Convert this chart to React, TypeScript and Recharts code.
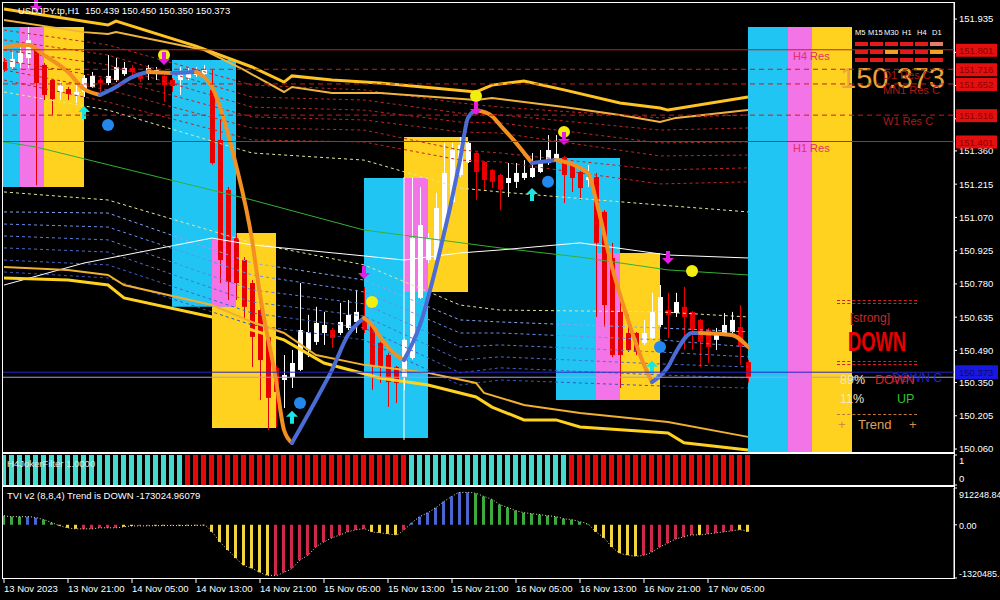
import React from 'react';
import {
  ComposedChart,
  Bar,
  Line,
  XAxis,
  YAxis,
  Cell,
  ReferenceArea,
  ReferenceLine,
  ReferenceDot,
} from 'recharts';

const FONT = '"Liberation Sans", Arial, sans-serif';

// H1 bars, index 0 = 13 Nov 13:00
const opens = [
  151.748, 151.726, 151.743, 151.765, 151.8, 151.735, 151.669, 151.617, 151.63, 151.604,
  151.617, 151.639, 151.669, 151.656, 151.669, 151.695, 151.722, 151.687, 151.704, 151.7,
  151.687, 151.669, 151.669, 151.678, 151.691, 151.695, 151.626, 151.408, 151.19, 150.98,
  150.884, 150.784, 150.666, 150.549, 150.414, 150.361, 150.374, 150.405, 150.492, 150.527,
  150.566, 150.579, 150.566, 150.588, 150.614, 150.632, 150.601, 150.523, 150.47, 150.418,
  150.374, 150.457, 150.719, 150.884, 150.884, 151.015, 151.137, 151.255, 151.312, 151.351,
  151.312, 151.277, 151.255, 151.22, 151.225, 151.242, 151.246, 151.268, 151.307, 151.325,
  151.333, 151.299, 151.268, 151.233, 151.246, 151.094, 150.893, 150.658, 150.566, 150.566,
  150.523, 150.544, 150.601, 150.666, 150.653, 150.68, 150.658, 150.623, 150.579, 150.536,
  150.566, 150.57, 150.592, 150.439,
];
const highs = [
  151.765, 151.8, 151.822, 151.9, 151.813, 151.743, 151.672, 151.66, 151.639, 151.647,
  151.691, 151.704, 151.678, 151.778, 151.765, 151.748, 151.735, 151.704, 151.735, 151.726,
  151.691, 151.678, 151.726, 151.722, 151.726, 151.735, 151.713, 151.495, 151.203, 151.002,
  150.897, 150.797, 150.688, 150.566, 150.422, 150.47, 150.492, 150.784, 150.645, 150.68,
  150.658, 150.588, 150.697, 150.71, 150.754, 150.767, 150.605, 150.527, 150.479, 150.422,
  150.54, 151.242, 151.203, 151.002, 151.177, 151.395, 151.395, 151.421, 151.4, 151.356,
  151.316, 151.281, 151.26, 151.307, 151.307, 151.32, 151.351, 151.364, 151.429, 151.429,
  151.338, 151.303, 151.272, 151.299, 151.264, 151.102, 150.959, 150.741, 150.645, 150.57,
  150.623, 150.741, 150.775, 150.741, 150.741, 150.767, 150.662, 150.627, 150.588, 150.588,
  150.653, 150.658, 150.688, 150.45,
];
const lows = [
  151.704, 151.713, 151.722, 151.722, 151.21, 151.582, 151.517, 151.582, 151.582, 151.569,
  151.595, 151.634, 151.617, 151.647, 151.66, 151.687, 151.691, 151.66, 151.669, 151.669,
  151.573, 151.617, 151.604, 151.669, 151.682, 151.682, 151.3, 150.784, 150.71, 150.71,
  150.623, 150.418, 150.274, 150.143, 150.156, 150.239, 150.326, 150.4, 150.461, 150.514,
  150.514, 150.501, 150.557, 150.579, 150.566, 150.566, 150.318, 150.348, 150.244, 150.261,
  150.318, 150.45, 150.714, 150.871, 150.871, 151.002, 151.13, 151.246, 151.307, 151.146,
  151.19, 151.198, 151.102, 151.159, 151.198, 151.233, 151.242, 151.264, 151.299, 151.32,
  151.133, 151.181, 151.146, 151.203, 150.636, 150.592, 150.461, 150.326, 150.483, 150.47,
  150.514, 150.536, 150.592, 150.544, 150.636, 150.492, 150.492, 150.418, 150.435, 150.492,
  150.557, 150.566, 150.427, 150.35,
];
const closes = [
  151.713, 151.761, 151.787, 151.843, 151.656, 151.604, 151.586, 151.643, 151.608, 151.617,
  151.678, 151.687, 151.656, 151.687, 151.726, 151.722, 151.704, 151.674, 151.722, 151.713,
  151.647, 151.643, 151.691, 151.7, 151.708, 151.713, 151.307, 150.884, 150.788, 150.784,
  150.68, 150.549, 150.448, 150.283, 150.309, 150.383, 150.435, 150.579, 150.57, 150.61,
  150.601, 150.544, 150.614, 150.645, 150.658, 150.579, 150.427, 150.414, 150.352, 150.348,
  150.536, 150.98, 151.037, 150.98, 151.111, 151.264, 151.364, 151.386, 151.395, 151.268,
  151.233, 151.225, 151.19, 151.242, 151.264, 151.264, 151.286, 151.307, 151.364, 151.347,
  151.255, 151.242, 151.198, 151.246, 150.959, 150.688, 150.47, 150.47, 150.492, 150.483,
  150.566, 150.658, 150.723, 150.645, 150.701, 150.636, 150.579, 150.527, 150.505, 150.562,
  150.601, 150.623, 150.505, 150.373,
];

const priceTicks = [
  151.935, 151.79, 151.645, 151.5, 151.36, 151.215, 151.07, 150.925, 150.78, 150.635, 150.49,
  150.35, 150.205, 150.06,
];
const timeTickIdx = [0, 8, 16, 24, 32, 40, 48, 56, 64, 72, 80, 88];
const timeLabels = [
  '13 Nov 2023', '13 Nov 21:00', '14 Nov 05:00', '14 Nov 13:00', '14 Nov 21:00', '15 Nov 05:00',
  '15 Nov 13:00', '15 Nov 21:00', '16 Nov 05:00', '16 Nov 13:00', '16 Nov 21:00', '17 Nov 05:00',
];

// channel bands, [bar, price]
const bandTopOuter = [
  [0, 151.979], [13, 151.909], [14, 151.926], [24, 151.817], [31, 151.726], [35, 151.66],
  [36, 151.687], [41, 151.669], [47, 151.656], [59, 151.617], [61, 151.647], [65, 151.665],
  [70, 151.626], [77, 151.569], [82, 151.547], [83, 151.538], [93, 151.595],
];
const bandTopInner = [
  [0, 151.931], [10, 151.878], [13, 151.87], [14, 151.878], [25, 151.8], [30, 151.713],
  [35, 151.617], [36, 151.639], [41, 151.613], [47, 151.613], [59, 151.582], [61, 151.591],
  [70, 151.551], [77, 151.517], [82, 151.486], [84, 151.504], [93, 151.538],
];
const bandLowInner = [
  [0, 150.854], [8, 150.841], [13, 150.819], [15, 150.775], [26, 150.688], [31, 150.614],
  [35, 150.566], [39, 150.47], [45, 150.427], [53, 150.392], [59, 150.348], [60, 150.305],
  [65, 150.252], [72, 150.217], [83, 150.178], [93, 150.113],
];
const bandLowOuter = [
  [0, 150.806], [8, 150.797], [13, 150.775], [15, 150.719], [26, 150.636], [31, 150.579],
  [35, 150.536], [40, 150.435], [47, 150.37], [53, 150.339], [59, 150.287], [61, 150.243],
  [65, 150.187], [69, 150.187], [72, 150.156], [83, 150.13], [85, 150.087], [93, 150.056],
];
const greenMa = [
  [0, 151.399], [4, 151.377], [31, 151.146], [45, 151.015], [62, 150.937], [72, 150.897],
  [83, 150.841], [93, 150.819],
];
const whiteMa = [
  [0, 150.775], [10, 150.871], [26, 150.98], [31, 150.95], [45, 150.902], [50, 150.884],
  [57, 150.915], [62, 150.928], [72, 150.959], [83, 150.906], [93, 150.893],
];

// envelope levels sampled at these bars
const envIdx = [0, 13, 31, 45, 57, 62, 82, 93];
const envRed1 = [151.887, 151.822, 151.647, 151.626, 151.569, 151.551, 151.504, 151.517];
const envRed2 = [151.844, 151.778, 151.595, 151.582, 151.525, 151.517, 151.451, 151.46];
const envRed3 = [151.8, 151.735, 151.551, 151.538, 151.486, 151.482, 151.395, 151.399];
const envRed4 = [151.756, 151.678, 151.508, 151.495, 151.443, 151.438, 151.338, 151.342];
const envRed5 = [151.713, 151.626, 151.46, 151.451, 151.364, 151.351, 151.277, 151.286];
const envRed6 = [151.669, 151.573, 151.408, 151.399, 151.32, 151.312, 151.216, 151.225];
const envPaleHi = [151.617, 151.538, 151.351, 151.32, 151.198, 151.181, 151.124, 151.094];
const envPaleLo = [151.181, 151.146, 150.959, 150.863, 150.688, 150.666, 150.658, 150.636];
const envBlue1 = [151.094, 151.089, 150.871, 150.797, 150.623, 150.614, 150.588, 150.571];
const envBlue2 = [151.041, 151.028, 150.819, 150.745, 150.566, 150.566, 150.536, 150.505];
const envBlue3 = [150.989, 150.972, 150.754, 150.693, 150.505, 150.514, 150.483, 150.462];
const envBlue4 = [150.937, 150.919, 150.701, 150.64, 150.448, 150.462, 150.431, 150.418];
const envBlue5 = [150.884, 150.863, 150.653, 150.588, 150.392, 150.414, 150.383, 150.37];
const envBlue6 = [150.832, 150.806, 150.601, 150.536, 150.339, 150.361, 150.335, 150.326];

// smoothed trend line, split by slope
const trendSegments = [
  { dir: 'dn', pts: [[0, 151.813], [3, 151.822], [5, 151.778], [8, 151.704], [10, 151.63], [12, 151.604]] },
  { dir: 'up', pts: [[12, 151.604], [14, 151.639], [16, 151.682], [18, 151.704]] },
  { dir: 'dn', pts: [[18, 151.704], [21, 151.7]] },
  { dir: 'up', pts: [[21, 151.7], [24, 151.704]] },
  { dir: 'dn', pts: [[24, 151.704], [26, 151.639], [29, 151.299], [31, 150.972], [32, 150.732], [34, 150.361], [35, 150.143], [36, 150.087]] },
  { dir: 'up', pts: [[36, 150.087], [39, 150.274], [41, 150.405], [43, 150.557], [45, 150.632]] },
  { dir: 'dn', pts: [[45, 150.632], [46, 150.601], [47, 150.549], [49, 150.47], [50, 150.448]] },
  { dir: 'up', pts: [[50, 150.448], [52, 150.601], [54, 150.854], [57, 151.32], [58, 151.504], [59, 151.538]] },
  { dir: 'dn', pts: [[59, 151.538], [61, 151.512], [62, 151.473], [64, 151.395], [66, 151.307]] },
  { dir: 'up', pts: [[66, 151.307], [69, 151.32]] },
  { dir: 'dn', pts: [[69, 151.32], [73, 151.264], [74, 151.146], [76, 150.854], [78, 150.623], [80, 150.427], [81, 150.352]] },
  { dir: 'up', pts: [[81, 150.352], [83, 150.418], [84, 150.483], [86, 150.566], [87, 150.566]] },
  { dir: 'dn', pts: [[87, 150.566], [91, 150.557], [93, 150.505]] },
];

const zoneBoxes = [
  { kind: 'yellow', x1: 5, x2: 10, top: 151.9, bottom: 151.203 },
  { kind: 'cyan', x1: -6, x2: 2, top: 151.9, bottom: 151.203 },
  { kind: 'pink', x1: 2, x2: 5, top: 151.9, bottom: 151.203 },
  { kind: 'yellow', x1: 26, x2: 34, top: 151.002, bottom: 150.152 },
  { kind: 'cyan', x1: 21, x2: 29, top: 151.756, bottom: 150.68 },
  { kind: 'pink', x1: 26, x2: 29, top: 150.972, bottom: 150.68 },
  { kind: 'yellow', x1: 50, x2: 58, top: 151.421, bottom: 150.745 },
  { kind: 'cyan', x1: 45, x2: 53, top: 151.242, bottom: 150.108 },
  { kind: 'pink', x1: 50, x2: 53, top: 151.242, bottom: 150.745 },
  { kind: 'yellow', x1: 77, x2: 82, top: 150.915, bottom: 150.274 },
  { kind: 'cyan', x1: 69, x2: 77, top: 151.329, bottom: 150.274 },
  { kind: 'pink', x1: 74, x2: 77, top: 150.915, bottom: 150.274 },
  { kind: 'cyan', x1: 93, x2: 98, top: 151.9, bottom: 150.0 },
  { kind: 'pink', x1: 98, x2: 101, top: 151.9, bottom: 150.0 },
  { kind: 'yellow', x1: 101, x2: 106, top: 151.9, bottom: 150.0 },
];

const levels = [
  { p: 151.801, name: 'H4 Res', dashed: false },
  { p: 151.716, name: 'D1 Res C', dashed: true },
  { p: 151.652, name: 'MN1 Res C', dashed: true },
  { p: 151.516, name: 'W1 Res C', dashed: true },
  { p: 151.401, name: 'H1 Res', dashed: false },
];
const bidPrice = 150.373;
const askPrice = 150.395;

const upArrows = [[10, 151.525], [36, 150.196], [66, 151.168], [81, 150.414]];
const downArrows = [[4, 151.996], [20, 151.765], [45, 150.832], [59, 151.547], [70, 151.416], [83, 150.897]];
const yellowDots = [[20, 151.778], [46, 150.701], [59, 151.599], [70, 151.443], [86, 150.836]];
const blueDots = [[13, 151.473], [37, 150.261], [68, 151.225], [82, 150.505]];

const filterRuns = [
  { from: 0, to: 22, up: true },
  { from: 23, to: 50, up: false },
  { from: 51, to: 70, up: true },
  { from: 71, to: 93, up: false },
];

const tviValues = [
  225800, 200700, 200700, 200700, 175600, 125400, 50200, -25100, -75300, -100300,
  -100300, -100300, -75300, -75300, -75300, -50200, -30000, -28000, -25000, -22000,
  -20000, -18000, -20000, -18000, -15000, -12000, -175600, -426500, -627200, -827900,
  -1003500, -1078700, -1179100, -1254400, -1254400, -1179100, -1078700, -878000, -752600, -551900,
  -426500, -326100, -250900, -175600, -125400, -100300, -175600, -200700, -225800, -250900,
  -125400, 50200, 200700, 301000, 426500, 577000, 702400, 802800, 802800, 777700,
  702400, 627200, 501700, 426500, 351200, 301000, 276000, 250900, 225800, 200700,
  150500, 125400, 75300, 12500, -175600, -326100, -551900, -702400, -752600, -777700,
  -752600, -677300, -551900, -451600, -351200, -301000, -250900, -250900, -225800, -200700,
  -175600, -150500, -125400, -173025,
];
const tviColorRuns = [
  { from: 0, to: 2, c: 'g' }, { from: 3, to: 4, c: 'b' }, { from: 5, to: 6, c: 'g' },
  { from: 7, to: 9, c: 'y' }, { from: 10, to: 14, c: 'r' }, { from: 15, to: 16, c: 'y' },
  { from: 17, to: 18, c: 'r' }, { from: 19, to: 20, c: 'y' }, { from: 21, to: 21, c: 'r' },
  { from: 22, to: 33, c: 'y' }, { from: 34, to: 45, c: 'r' }, { from: 46, to: 49, c: 'y' },
  { from: 50, to: 50, c: 'r' }, { from: 51, to: 58, c: 'b' }, { from: 59, to: 73, c: 'g' },
  { from: 74, to: 79, c: 'y' }, { from: 80, to: 86, c: 'r' }, { from: 87, to: 87, c: 'y' },
  { from: 88, to: 91, c: 'r' }, { from: 92, to: 93, c: 'y' },
];
const tviTicks = [912248.84, 0, -1320485.3];

const mtfRows = [
  ['r', 'r', 'r', 'r', 'r', 's'],
  ['r', 'r', 'o', 'r', 'r', 'o'],
  ['r', 'r', 'r', 'r', 'r', 'r'],
];
const mtfNames = ['M5', 'M15', 'M30', 'H1', 'H4', 'D1'];

const X_DOMAIN: [number, number] = [-0.125, 118.75];
const Y_DOMAIN: [number, number] = [150.047, 152.005];
const BOX_COLORS: Record<string, string> = { cyan: '#21C5F3', pink: '#F274E6', yellow: '#FFD21F' };
const TVI_COLORS: Record<string, string> = { g: '#3DAA3D', b: '#4A64D0', y: '#F2D43C', r: '#D0284A' };
const MTF_COLORS: Record<string, string> = { r: '#E41A1A', o: '#F2A21E', s: '#E87A6A' };
const MTF_LEFT = [855, 868, 884, 902, 917, 932];

const candles = opens.map((o, i) => ({ i, o, h: highs[i], l: lows[i], c: closes[i] }));
const pairRows = (pairs: number[][]) => pairs.map(([i, p]) => ({ i, p }));
const envRows = (vals: number[]) => envIdx.map((i, k) => ({ i, p: vals[k] }));

const filterRows = candles.map(({ i }) => {
  const run = filterRuns.find((r) => i >= r.from && i <= r.to);
  return { i, v: 1, up: run ? run.up : true };
});
const tviRows = tviValues.map((v, i) => {
  const run = tviColorRuns.find((r) => i >= r.from && i <= r.to);
  return { i, v, c: run ? run.c : 'y' };
});

const envLines = [
  { vals: envRed1, color: '#C42424' },
  { vals: envRed2, color: '#C42424' },
  { vals: envRed3, color: '#C42424' },
  { vals: envRed4, color: '#C42424' },
  { vals: envRed5, color: '#C42424' },
  { vals: envRed6, color: '#C42424' },
  { vals: envPaleHi, color: '#E6E69A' },
  { vals: envPaleLo, color: '#E6E69A' },
  { vals: envBlue1, color: '#86A6F2' },
  { vals: envBlue2, color: '#6A8EEA' },
  { vals: envBlue3, color: '#5A7EE0' },
  { vals: envBlue4, color: '#4C6ED4' },
  { vals: envBlue5, color: '#4462C8' },
  { vals: envBlue6, color: '#3A56BA' },
];

const Candle = (props: any) => {
  const { x, y, width, height, payload } = props;
  if (!payload) return null;
  const { o, h, l, c } = payload;
  const top = Math.min(y, y + height);
  const span = Math.abs(height);
  const ppu = span / (h - l);
  const yO = top + (h - o) * ppu;
  const yC = top + (h - c) * ppu;
  const color = c >= o ? '#FFFFFF' : '#E80000';
  const cx = Math.round(x + width / 2);
  return (
    <g>
      <line x1={cx + 0.5} x2={cx + 0.5} y1={top} y2={top + span} stroke={color} strokeWidth={1} />
      <rect x={cx - 2} y={Math.min(yO, yC)} width={5} height={Math.max(1, Math.abs(yC - yO))} fill={color} />
    </g>
  );
};

const UpArrow = ({ cx, cy }: any) => (
  <path
    d={`M${cx},${cy - 7} L${cx + 6},${cy - 1} L${cx + 2},${cy - 1} L${cx + 2},${cy + 6} L${cx - 2},${cy + 6} L${cx - 2},${cy - 1} L${cx - 6},${cy - 1} Z`}
    fill="#19E6E0"
  />
);
const DownArrow = ({ cx, cy }: any) => (
  <path
    d={`M${cx},${cy + 7} L${cx + 6},${cy + 1} L${cx + 2},${cy + 1} L${cx + 2},${cy - 6} L${cx - 2},${cy - 6} L${cx - 2},${cy + 1} L${cx - 6},${cy + 1} Z`}
    fill="#E21EE2"
  />
);
const Dot = ({ cx, cy, fill }: any) => <circle cx={cx} cy={cy} r={6} fill={fill} />;

const LevelLabel = (props: any) => {
  const { viewBox, level } = props;
  if (!viewBox) return null;
  const right = viewBox.x + viewBox.width;
  const y = viewBox.y;
  const isC = level.name.endsWith(' C');
  return (
    <g>
      <text x={isC ? right - 71 : right - 161} y={y + 10} fill={isC ? '#B01818' : '#E2306A'} fontSize={11} fontFamily={FONT}>
        {level.name}
      </text>
      <rect x={right + 2} y={y - 6} width={41} height={13} fill="#E41010" />
      <text x={right + 5} y={y + 4} fill="#8A0000" fontSize={9.5} fontFamily={FONT}>
        {level.p.toFixed(3)}
      </text>
    </g>
  );
};

const BidLabel = (props: any) => {
  const { viewBox } = props;
  if (!viewBox) return null;
  const right = viewBox.x + viewBox.width;
  const y = viewBox.y;
  return (
    <g>
      <rect x={right + 1} y={y - 12} width={43} height={14} fill="#1818E0" />
      <text x={right + 5} y={y - 1} fill="#0A0A70" fontSize={9.5} fontFamily={FONT}>
        {bidPrice.toFixed(3)}
      </text>
    </g>
  );
};

const FilterTick = ({ x, y, payload }: any) => (
  <text x={x} y={y + (payload.value === 1 ? 9 : -3)} fill="#FFFFFF" fontSize={9.5} fontFamily={FONT}>
    {payload.value}
  </text>
);

const TviTick = ({ x, y, payload }: any) => {
  const v = payload.value;
  const dy = v > 0 ? 10 : v < 0 ? -1 : 4;
  const label = v === 0 ? '0.00' : v > 0 ? v.toFixed(2) : v.toFixed(1);
  return (
    <text x={x} y={y + dy} fill="#FFFFFF" fontSize={9} fontFamily={FONT}>
      {label}
    </text>
  );
};

const TimeTick = ({ x, y, payload }: any) => {
  const k = timeTickIdx.indexOf(payload.value);
  return (
    <g>
      <line x1={x} x2={x} y1={y + 1} y2={y + 5} stroke="#FFFFFF" />
      <text x={x} y={y + 14} fill="#FFFFFF" fontSize={9.5} fontFamily={FONT}>
        {timeLabels[k]}
      </text>
    </g>
  );
};

const txt = (style: React.CSSProperties): React.CSSProperties => ({
  position: 'absolute',
  whiteSpace: 'pre',
  lineHeight: 1,
  fontFamily: FONT,
  ...style,
});

const App = (): React.ReactElement => {
  return (
    <div
      style={{
        position: 'absolute',
        left: 0,
        top: 0,
        width: 1000,
        height: 600,
        background: '#000000',
        overflow: 'hidden',
        fontFamily: FONT,
      }}
    >
      <div style={{ position: 'absolute', left: 0, top: 0 }}>
        <ComposedChart width={1000} height={455} data={candles} margin={{ top: 3, right: 0, bottom: 3, left: 3 }}>
          <XAxis dataKey="i" type="number" domain={X_DOMAIN} hide allowDataOverflow />
          <YAxis
            orientation="right"
            width={46}
            domain={Y_DOMAIN}
            allowDataOverflow
            ticks={priceTicks}
            interval={0}
            tickFormatter={(v: number) => v.toFixed(3)}
            tick={{ fill: '#FFFFFF', fontSize: 9.5 }}
            tickSize={3}
            tickLine={{ stroke: '#FFFFFF' }}
            axisLine={{ stroke: '#FFFFFF' }}
          />

          {zoneBoxes.map((b, k) => (
            <ReferenceArea
              key={`box-${k}`}
              x1={b.x1}
              x2={b.x2}
              y1={b.bottom}
              y2={b.top}
              fill={BOX_COLORS[b.kind]}
              fillOpacity={1}
              stroke="none"
              ifOverflow="hidden"
            />
          ))}

          {envLines.map((e, k) => (
            <Line
              key={`env-${k}`}
              data={envRows(e.vals)}
              dataKey="p"
              type="linear"
              stroke={e.color}
              strokeWidth={1}
              strokeDasharray="3 3"
              dot={false}
              activeDot={false}
              isAnimationActive={false}
            />
          ))}
          <Line data={pairRows(greenMa)} dataKey="p" type="linear" stroke="#34B034" strokeWidth={1} dot={false} activeDot={false} isAnimationActive={false} />
          <Line data={pairRows(whiteMa)} dataKey="p" type="linear" stroke="#FFFFFF" strokeWidth={1} dot={false} activeDot={false} isAnimationActive={false} />
          <Line data={pairRows(bandTopOuter)} dataKey="p" type="linear" stroke="#FFC421" strokeWidth={3} dot={false} activeDot={false} isAnimationActive={false} />
          <Line data={pairRows(bandTopInner)} dataKey="p" type="linear" stroke="#F0B43C" strokeWidth={2} dot={false} activeDot={false} isAnimationActive={false} />
          <Line data={pairRows(bandLowInner)} dataKey="p" type="linear" stroke="#F0B030" strokeWidth={2} dot={false} activeDot={false} isAnimationActive={false} />
          <Line data={pairRows(bandLowOuter)} dataKey="p" type="linear" stroke="#FFD21F" strokeWidth={3} dot={false} activeDot={false} isAnimationActive={false} />

          <ReferenceLine
            segment={[
              { x: 50, y: 151.246 },
              { x: 50, y: 150.1 },
            ]}
            stroke="#FFFFFF"
            strokeWidth={1}
          />

          <Bar
            dataKey={(d: any) => [d.l, d.h]}
            barSize={5}
            shape={(p: any) => <Candle {...p} />}
            isAnimationActive={false}
          />

          {trendSegments.map((s, k) => (
            <Line
              key={`trend-${k}`}
              data={pairRows(s.pts)}
              dataKey="p"
              type="monotone"
              stroke={s.dir === 'up' ? '#4A6CD4' : '#F39021'}
              strokeWidth={4}
              strokeLinecap="round"
              dot={false}
              activeDot={false}
              isAnimationActive={false}
            />
          ))}

          {yellowDots.map(([i, p]) => (
            <ReferenceDot key={`yd-${i}`} x={i} y={p} r={6} shape={(q: any) => <Dot {...q} fill="#F2EE10" />} />
          ))}
          {blueDots.map(([i, p]) => (
            <ReferenceDot key={`bd-${i}`} x={i} y={p} r={6} shape={(q: any) => <Dot {...q} fill="#2288EE" />} />
          ))}
          {upArrows.map(([i, p]) => (
            <ReferenceDot key={`ua-${i}`} x={i} y={p} r={6} shape={(q: any) => <UpArrow {...q} />} />
          ))}
          {downArrows.map(([i, p]) => (
            <ReferenceDot key={`da-${i}`} x={i} y={p} r={6} shape={(q: any) => <DownArrow {...q} />} />
          ))}
        </ComposedChart>
      </div>

      {/* big last price, under the level lines */}
      <div style={txt({ left: 840, top: 64, fontSize: 29, color: '#EBA43A' })}>150.373</div>

      {/* level lines and their axis tags, drawn on top of the axis */}
      <div style={{ position: 'absolute', left: 0, top: 0 }}>
        <ComposedChart width={1000} height={455} data={candles} margin={{ top: 3, right: 46, bottom: 3, left: 3 }}>
          <XAxis dataKey="i" type="number" domain={X_DOMAIN} hide allowDataOverflow />
          <YAxis domain={Y_DOMAIN} hide allowDataOverflow />
          {levels.map((lv) => (
            <ReferenceLine
              key={lv.name}
              y={lv.p}
              stroke="#C81E1E"
              strokeWidth={1}
              strokeDasharray={lv.dashed ? '5 4' : undefined}
              label={<LevelLabel level={lv} />}
            />
          ))}
          <ReferenceLine y={askPrice} stroke="#2626C4" strokeWidth={1} />
          <ReferenceLine y={bidPrice} stroke="#A0A0E8" strokeWidth={1} label={<BidLabel />} />
        </ComposedChart>
      </div>

      <div style={{ position: 'absolute', left: 0, top: 454 }}>
        <ComposedChart width={1000} height={32} data={filterRows} margin={{ top: 1, right: 0, bottom: 1, left: 3 }}>
          <XAxis dataKey="i" type="number" domain={X_DOMAIN} hide allowDataOverflow />
          <YAxis
            orientation="right"
            width={46}
            domain={[0, 1]}
            ticks={[0, 1]}
            interval={0}
            tick={<FilterTick />}
            tickSize={3}
            tickLine={{ stroke: '#FFFFFF' }}
            axisLine={{ stroke: '#FFFFFF' }}
          />
          <Bar dataKey="v" barSize={5} isAnimationActive={false}>
            {filterRows.map((r) => (
              <Cell key={r.i} fill={r.up ? '#44DCCC' : '#E20A0A'} />
            ))}
          </Bar>
        </ComposedChart>
      </div>

      <div style={{ position: 'absolute', left: 0, top: 487 }}>
        <ComposedChart width={1000} height={113} data={tviRows} margin={{ top: 1, right: 0, bottom: 0, left: 3 }}>
          <XAxis
            dataKey="i"
            type="number"
            domain={X_DOMAIN}
            allowDataOverflow
            ticks={timeTickIdx}
            interval={0}
            tick={<TimeTick />}
            tickLine={false}
            axisLine={false}
            tickSize={0}
            tickMargin={0}
            height={22}
          />
          <YAxis
            orientation="right"
            width={46}
            domain={[-1320485.3, 912248.84]}
            allowDataOverflow
            ticks={tviTicks}
            interval={0}
            tick={<TviTick />}
            tickSize={3}
            tickLine={{ stroke: '#FFFFFF' }}
            axisLine={{ stroke: '#FFFFFF' }}
          />
          <Bar dataKey="v" barSize={3} isAnimationActive={false}>
            {tviRows.map((r) => (
              <Cell key={r.i} fill={TVI_COLORS[r.c]} />
            ))}
          </Bar>
          <Line
            dataKey="v"
            type="monotone"
            stroke="#E8E2B8"
            strokeWidth={1}
            strokeDasharray="1 2"
            dot={false}
            activeDot={false}
            isAnimationActive={false}
          />
        </ComposedChart>
      </div>

      {/* panel frames */}
      <div style={{ position: 'absolute', left: 2, top: 2, width: 953, height: 451, border: '1px solid #FFFFFF', boxSizing: 'border-box', pointerEvents: 'none' }} />
      <div style={{ position: 'absolute', left: 2, top: 453, width: 953, height: 33, border: '1px solid #FFFFFF', boxSizing: 'border-box', pointerEvents: 'none' }} />
      <div style={{ position: 'absolute', left: 2, top: 486, width: 953, height: 93, border: '1px solid #FFFFFF', boxSizing: 'border-box', pointerEvents: 'none' }} />

      <div style={txt({ left: 18, top: 6, fontSize: 9.5, color: '#FFFFFF' })}>USDJPY.tp,H1  150.439 150.450 150.350 150.373</div>
      <div style={txt({ left: 7, top: 459, fontSize: 9.5, color: '#E4E4E4' })}>H4JokerFilter 1.0000</div>
      <div style={txt({ left: 7, top: 491, fontSize: 9.5, color: '#FFFFFF' })}>TVI v2 (8,8,4) Trend is DOWN -173024.96079</div>

      {/* multi-timeframe panel */}
      {mtfNames.map((n, k) => (
        <div key={n} style={txt({ left: MTF_LEFT[k], top: 29, fontSize: 7.5, color: '#FFFFFF' })}>{n}</div>
      ))}
      {mtfRows.map((row, r) =>
        row.map((c, k) => (
          <div
            key={`mtf-${r}-${k}`}
            style={{ position: 'absolute', left: 855 + k * 15, top: 42 + r * 8, width: 13, height: 4, background: MTF_COLORS[c] }}
          />
        )),
      )}

      {/* trend panel */}
      <div style={{ position: 'absolute', left: 837, top: 300, width: 80, height: 2, borderTop: '1px dashed #D42020', borderBottom: '1px dashed #D42020' }} />
      <div style={txt({ left: 850, top: 312, fontSize: 12, color: '#C82828' })}>[strong]</div>
      <div
        style={txt({
          left: 848,
          top: 329,
          fontSize: 27,
          fontWeight: 'bold',
          color: '#E60000',
          transform: 'scaleX(0.68)',
          transformOrigin: 'left top',
        })}
      >
        DOWN
      </div>
      <div style={{ position: 'absolute', left: 837, top: 361, width: 80, height: 2, borderTop: '1px dashed #D42020', borderBottom: '1px dashed #D42020' }} />
      <div style={txt({ left: 892, top: 372, fontSize: 12, color: '#2424C8' })}>DOWN C</div>
      <div style={txt({ left: 840, top: 374, fontSize: 12.5, color: '#F2E6CF' })}>89%</div>
      <div style={txt({ left: 875, top: 374, fontSize: 12.5, color: '#D82020' })}>DOWN</div>
      <div style={txt({ left: 840, top: 393, fontSize: 12.5, color: '#F2E6CF' })}>11%</div>
      <div style={txt({ left: 897, top: 393, fontSize: 12.5, color: '#2EC22E' })}>UP</div>
      <div style={{ position: 'absolute', left: 837, top: 414, width: 80, borderTop: '1px dashed #C07838' }} />
      <div style={txt({ left: 838, top: 418, fontSize: 13, color: '#D88A40' })}>+</div>
      <div style={txt({ left: 858, top: 418, fontSize: 13, color: '#E0A058' })}>Trend</div>
      <div style={txt({ left: 909, top: 418, fontSize: 13, color: '#D88A40' })}>+</div>
    </div>
  );
};

export default App;
